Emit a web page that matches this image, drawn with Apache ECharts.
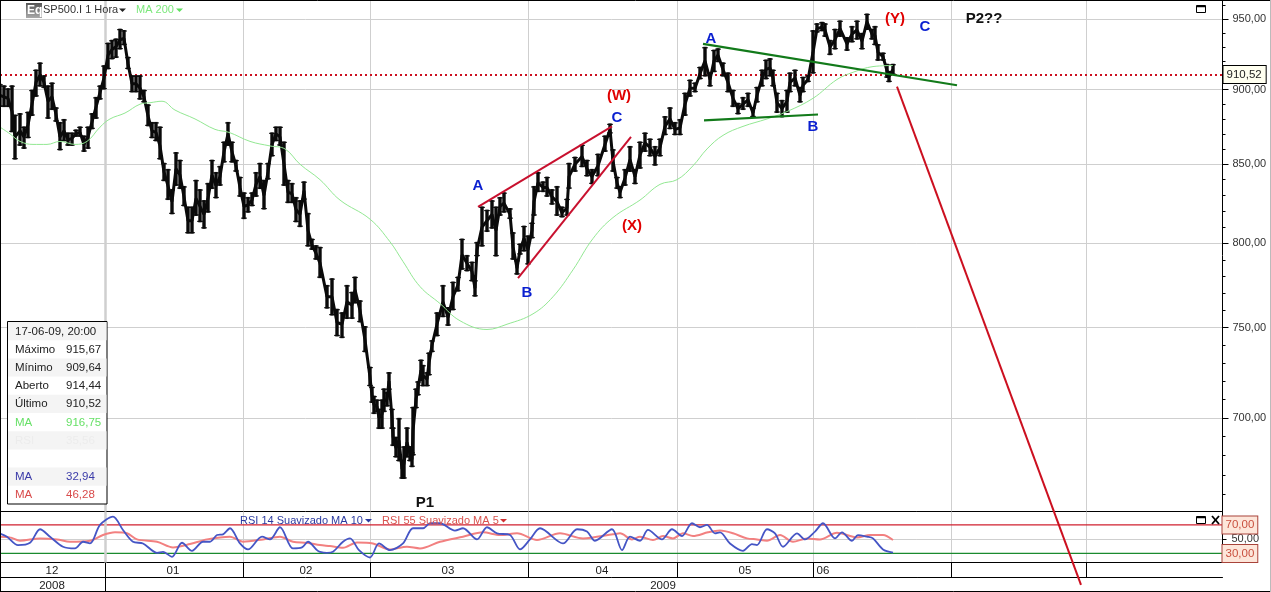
<!DOCTYPE html>
<html><head><meta charset="utf-8">
<style>html,body{margin:0;padding:0;background:#fff;overflow:hidden}#c{width:1271px;height:592px}</style>
<script src="https://cdn.jsdelivr.net/npm/echarts@6/dist/echarts.min.js"></script>
</head><body><div id="c"></div>
<script>
const barIndex=[0,4,8,12,15,20,24,28,32,36,40,44,48,52,56,60,64,68,72,76,80,84,88,92,96,100,104,108,112,116,120,124,128,132,136,140,144,148,152,156,160,164,168,172,176,180,184,188,192,196,200,204,208,212,216,220,224,228,232,236,240,244,248,252,256,260,264,268,272,276,280,284,288,292,296,300,304,308,312,316,320,327,332,337,342,347,352,355,360,365,
370,372,374,377,379,382,384,387,389,392,393,396,399,402,404,407,410,412,413,416,418,421,423,427,429,432,437,443,448,453,458,462,467,472,475,477,482,487,492,496,500,504,510,513,517,520,524,528,532,534,538,543,547,552,557,562,567,569,575,582,587,592,598,605,610,613,617,620,625,630,635,640,645,650,655,660,665,670,675,680,685,690,695,700,705,710,714,718,723,728,733,738,743,748,753,757,762,766,770,773,777,782,787,790,795,800,803,808,813,817,822,825,830,835,840,847,852,857,862,867,872,875,878,883,887,889,893];
const barHigh=[904,903,901,903,883,884,875,885,900,914,919,910,903,905,888,878,880,871,871,873,875,869,875,884,895,903,917,933,935,936,943,942,923,910,910,910,900,890,878,878,875,851,847,834,858,853,836,823,823,840,834,827,838,853,845,849,865,878,865,853,842,832,829,832,845,851,840,851,871,875,875,865,840,838,829,827,839,819,803,799,798,775,779,761,759,775,771,780,766,751,
728,717,712,710,705,710,716,714,725,705,695,690,700,678,685,695,685,682,706,716,720,732,729,725,736,743,759,775,762,777,780,803,793,789,778,801,823,821,827,823,829,832,822,807,790,800,811,805,813,836,845,839,842,834,836,823,828,851,855,863,853,847,857,869,877,860,842,836,847,862,847,865,871,867,862,867,882,888,878,880,898,907,905,916,930,912,928,929,919,912,900,891,895,898,888,902,914,921,922,914,898,893,900,912,914,902,909,910,942,947,948,947,935,943,949,937,945,949,940,954,943,945,932,926,918,913,918];
const barLow=[888,888,888,871,853,862,860,867,882,895,902,901,880,886,878,859,865,862,862,868,868,858,860,873,880,893,900,914,921,922,928,931,914,898,898,893,891,875,867,865,853,839,827,818,836,834,823,806,806,817,813,809,819,834,828,836,851,862,851,845,829,815,819,823,829,834,821,840,855,865,862,836,825,825,813,810,827,798,796,790,779,761,757,745,744,755,755,764,753,736,
717,708,702,703,694,694,703,706,715,694,685,679,677,668,668,679,677,674,680,705,712,720,717,717,723,736,745,756,751,760,771,784,783,777,768,792,798,807,809,792,817,819,815,790,781,793,795,787,803,817,832,832,829,824,817,816,817,834,845,848,842,837,842,858,870,845,834,828,836,845,837,847,858,855,849,855,869,873,869,869,882,895,898,907,909,902,912,919,909,898,888,883,886,888,881,891,902,907,909,902,884,881,884,898,902,891,898,905,911,940,941,937,924,928,937,927,933,935,928,942,935,931,920,920,908,905,910];
const barClose=[896,895,894,885,868,872,868,876,890,905,910,905,892,895,883,868,872,866,867,870,871,863,868,878,888,898,908,924,928,930,935,936,918,904,904,901,895,882,872,871,862,845,836,826,847,843,829,814,814,828,823,818,828,843,836,842,858,870,858,849,835,823,824,827,837,842,830,845,863,870,868,850,832,831,821,818,833,808,799,794,788,768,768,753,752,765,763,772,760,743,
722,712,707,706,700,702,709,710,720,700,690,684,688,673,676,687,681,678,693,710,716,726,723,721,730,740,752,765,756,768,775,793,788,783,773,796,810,814,818,808,823,825,818,798,785,796,803,796,808,826,838,835,835,829,826,819,822,842,850,855,847,842,849,863,873,852,838,832,841,853,842,856,864,861,855,861,875,880,873,874,890,901,901,911,920,907,920,924,914,905,894,887,890,893,884,896,908,914,915,908,891,887,892,905,908,896,903,907,926,943,944,942,930,935,943,932,939,942,934,948,939,938,926,923,913,909,914];
const maIndex=[0,10,20,33,47,60,75,87,100,110,125,140,150,162,175,195,215,229,250,270,285,300,320,340,370,390,403,420,440,460,487,507,533,553,573,593,613,640,660,677,693,707,723,743,767,787,813,837,853,873,893];
const maValues=[874.5,870,865,863,863,865,863,865,874.5,880,884,890,891,892,886,880,873,871,865,862,860,850,840,827,815,801,789,774,764,754,749,752,758,768,784,803,816,827,837,840,849,860,869,875,880,885,894,907,912,916,916.75];
const rsi14Index=[0,7,18,30,40,50,63,75,83,90,100,113,123,133,143,157,163,172,182,192,203,210,217,223,230,240,248,262,270,280,293,302,308,317,320,327,333,343,350,359,370,379,390,403,413,423,430,440,455,463,477,487,497,510,520,530,540,563,577,587,595,612,622,630,640,648,662,672,682,692,700,707,715,720,730,743,752,757,767,775,783,797,805,815,823,835,842,852,858,867,873,883,893];
const rsi14=[58,53.5,41.7,45,63.9,53.5,39.4,37,46.4,44,70,81.7,62.9,46.4,44,30.9,32.3,25.2,45,33.7,46.4,46.4,55.8,56.8,65.3,44,35.6,53.5,49.7,66.7,37,38.4,46.4,34.6,32.3,30.9,32.3,46.4,51.1,34.6,24.3,44,34.6,44,65.3,65.3,72.3,72.3,62,65.3,49.7,66.7,58.2,55.8,35.6,49.7,65.3,44,63.9,60.6,47.8,63.9,34.6,53.5,47.8,62.9,49.7,63.9,54.4,72.3,66.7,70,58.2,59.6,44,33.7,43.1,41.7,63.9,58.2,39.4,58.2,49.7,60.6,72.3,51.1,59.6,47.8,55.8,53.5,51.1,35.6,31.3];
const rsi55Index=[0,10,20,40,57,70,90,103,115,127,137,157,173,190,207,230,243,263,280,293,307,320,330,343,357,373,390,407,420,440,463,483,500,517,537,560,583,613,620,632,640,653,663,673,683,693,708,720,733,747,757,767,780,793,807,820,837,857,870,883,893];
const rsi55=[53.5,52.5,47.8,51.1,49.7,46.4,47.8,55.8,59.6,58.2,49.7,46.4,38.4,43.1,49.7,53.5,46.4,49.7,53.5,46.4,45,41.7,40.3,38,45.5,44,35.6,39.4,37,46.4,53.5,59.6,55.8,58.2,48.8,58.2,51.1,56.8,58.2,49.7,53.5,48.8,54.4,51.1,58.2,54.4,59.6,62,58.2,51.1,49.7,47.8,55.8,46.4,51.1,49.7,59.1,52.5,55.8,55.8,48.8,45];
const lastPrice=910.52;
const priceTicks=[700,750,800,850,900,950];
const priceMinorTicks=[660,670,680,690,710,720,730,740,760,770,780,790,810,820,830,840,860,870,880,890,910,920,930,940,960];
const monthEdges=[105,243,370,528,677,813,951,1086];
const monthLabelAt=[52,173,306,448,602,745,823];
const monthLabels=['12','01','02','03','04','05','06'];
const yearEdges=[105];
const yearLabelAt=[52,663];
const yearLabels=['2008','2009'];
const redUpper=[[478,822.7],[612,875]];
const redLower=[[518,779],[631,868]];
const greenUpper=[[703,932],[957,903]];
const greenLower=[[704,879],[818,883]];
const redProjection=[[897,902],[1081,616]];
const noteIndex=[619,478,617,632,527,425,711,813,895,925,984];
const notePrice=[896,836,881,811,770,656,936,875,950,944,950];
const noteText=['(W)','A','C','(X)','B','P1','A','B','(Y)','C','P2??'];
const noteColor=['#e00000','#0a1fd0','#0a1fd0','#e00000','#0a1fd0','#111','#0a1fd0','#0a1fd0','#e00000','#0a1fd0','#111'];
const infoDate='17-06-09, 20:00';
const infoNames=['Máximo','Mínimo','Aberto','Último','MA','RSI','','MA','MA'];
const infoValues=['915,67','909,64','914,44','910,52','916,75','35,56','','32,94','46,28'];
const infoColors=['#222','#222','#222','#222','#66e066','#ececec','#222','#3a3aa8','#d84a4a'];

const F='"Liberation Sans",Arial,sans-serif';
const fmt=v=>v.toFixed(2).replace('.',',');
const zip=(a,b)=>a.map((x,i)=>[x,b[i]]);
const lineS=(name,d,color,w,extra)=>Object.assign({name,type:'line',data:d,symbol:'none',silent:true,clip:false,z:8,
  lineStyle:{color,width:w}},extra||{});
const levelLabel=t=>({show:true,position:'end',formatter:t,distance:0,color:'#c9503f',fontSize:11.5,fontFamily:F,backgroundColor:'#fde6da',borderColor:'#a8433a',borderWidth:1,padding:[3,3,2,3]});
const levelS=(name,v,color)=>({name,type:'line',xAxisIndex:1,yAxisIndex:2,data:[[0,v],[1222.5,v]],symbol:'none',silent:true,z:3,
  itemStyle:{color},lineStyle:{color,width:1.2},
  markLine:{silent:true,symbol:'none',animation:false,lineStyle:{color:'rgba(255,255,255,0)',width:1,type:'solid'},label:levelLabel(fmt(v)),data:[{yAxis:v}]}});

const graphics=[];
const T=(x,y,text,fill,font,extra)=>graphics.push(Object.assign({type:'text',x,y,silent:true,z:50,style:{text,fill,font:font||('11.5px '+F),textVerticalAlign:'middle'}},extra||{}));
const tri=(x,y,c)=>graphics.push({type:'polygon',silent:true,z:50,shape:{points:[[x,y],[x+7,y],[x+3.5,y+3.5]]},style:{fill:c}});
const L=(x1,y1,x2,y2,c,w)=>graphics.push({type:'line',silent:true,z:40,shape:{x1,y1,x2,y2},style:{stroke:c,lineWidth:w||1}});
const R=(x,y,w,h,fill,stroke,lw)=>graphics.push({type:'rect',silent:true,z:45,shape:{x,y,width:w,height:h},style:{fill:fill||'transparent',stroke:stroke||null,lineWidth:lw||1}});
// frame
L(0,0.5,1271,0.5,'#000');L(0.5,0,0.5,592,'#000');L(0,591.5,1271,591.5,'#000');L(1270.5,0,1270.5,592,'#bbb');
// header
graphics.push({type:'rect',silent:true,z:45,shape:{x:26,y:3,width:16,height:15},style:{fill:{type:'linear',x:0,y:0,x2:0,y2:1,colorStops:[{offset:0,color:'#555'},{offset:1,color:'#aaa'}]}}});
T(27,11,'Eq','#fff','bold 12px '+F);
T(43,10,'SP500.I 1 Hora','#333','11px '+F);tri(119,8.5,'#222');
T(136,10,'MA 200','#7be87b','11px '+F);tri(176,8.5,'#5ee05e');
// window icons
R(1196.5,5.5,9,7,null,'#000',1);L(1196.5,6.5,1205.5,6.5,'#000',1.5);
R(1196.5,516.5,9,7,null,'#000',1);L(1196.5,517.5,1205.5,517.5,'#000',1.5);
L(1212,516,1219,524,'#000',1.8);L(1219,516,1212,524,'#000',1.8);
// RSI titles
T(240,520.5,'RSI 14 Suavizado MA 10','#2b3aa0','11px '+F);tri(365,519,'#2b3aa0');
T(382,520.5,'RSI 55 Suavizado MA 5','#d9534f','11px '+F);tri(500,519,'#d03030');
// info box
const rowH=18.2, boxTop=322;
graphics.push({type:'rect',silent:true,z:44,shape:{x:7.5,y:321.5,width:99.5,height:182.5},style:{fill:'#fff',stroke:'#000',lineWidth:1}});
for(let i=0;i<10;i++){ if(i%2===0) graphics.push({type:'rect',silent:true,z:44.5,shape:{x:8,y:boxTop+i*rowH,width:98.5,height:rowH},style:{fill:'#f4f4f4'}}); }
T(15,boxTop+9.5,infoDate,'#222');
infoNames.forEach((n,i)=>{const y=boxTop+(i+1)*rowH+9.5;T(15,y,n,infoColors[i]);T(66,y,infoValues[i],infoColors[i]);});

const option={
 animation:false,backgroundColor:'#fff',textStyle:{fontFamily:F},
 grid:[
  {left:0,top:0,width:1222.5,height:511,containLabel:false},
  {left:0,top:511.5,width:1222.5,height:51,containLabel:false,show:true,borderColor:'#000',borderWidth:1,backgroundColor:'transparent'}
 ],
 xAxis:[
  {type:'value',gridIndex:0,min:0,max:1222.5,axisLine:{show:false},axisLabel:{show:false},axisTick:{show:false,customValues:monthEdges},
   splitLine:{show:true,lineStyle:{color:'#cfcfcf',width:1}}},
  {type:'value',gridIndex:1,min:0,max:1222.5,position:'bottom',axisLine:{show:true,onZero:false,lineStyle:{color:'#000'}},
   axisTick:{show:true,length:15,inside:false,customValues:monthEdges,lineStyle:{color:'#000'}},
   axisLabel:{show:true,customValues:monthLabelAt,margin:2,color:'#222',fontSize:11.5,fontFamily:F,formatter:v=>monthLabels[monthLabelAt.indexOf(v)]},
   splitLine:{show:true,lineStyle:{color:'#cfcfcf',width:1}}},
  {type:'value',gridIndex:1,min:0,max:1222.5,position:'bottom',offset:15,axisLine:{show:true,onZero:false,lineStyle:{color:'#000'}},
   axisTick:{show:true,length:15,inside:false,customValues:yearEdges,lineStyle:{color:'#000'}},
   axisLabel:{show:true,customValues:yearLabelAt,margin:2,color:'#222',fontSize:11.5,fontFamily:F,formatter:v=>yearLabels[yearLabelAt.indexOf(v)]},
   splitLine:{show:false}}
 ],
 yAxis:[
  {type:'log',gridIndex:0,position:'right',min:651.8,max:963.9,axisLine:{show:true,onZero:false,lineStyle:{color:'#000'}},
   axisTick:{show:true,length:6,customValues:priceTicks,lineStyle:{color:'#000'}},
   axisLabel:{show:true,customValues:priceTicks,margin:10,color:'#333',fontSize:11,fontFamily:F,formatter:v=>fmt(v)},
   splitLine:{show:true,lineStyle:{color:'#cfcfcf',width:1}},minorTick:{show:false}},
  {type:'log',gridIndex:0,position:'right',min:651.8,max:963.9,axisLine:{show:false,onZero:false},
   axisTick:{show:true,length:3,customValues:priceMinorTicks,lineStyle:{color:'#000'}},axisLabel:{show:false},splitLine:{show:false}},
  {type:'value',gridIndex:1,position:'right',min:17.3,max:88.8,axisLine:{show:true,onZero:false,lineStyle:{color:'#000'}},
   axisTick:{show:true,length:4,customValues:[50],lineStyle:{color:'#000'}},
   axisLabel:{show:true,customValues:[50],margin:9,color:'#333',fontSize:11,fontFamily:F,formatter:v=>fmt(v)},
   splitLine:{show:true,lineStyle:{color:'#cfcfcf',width:1}}}
 ],
 series:[
  {name:'Hoje',type:'line',xAxisIndex:0,yAxisIndex:0,data:[],symbol:'none',silent:true,z:2,
   markLine:{silent:true,symbol:'none',animation:false,label:{show:false},lineStyle:{color:'#cfcfcf',width:2.5,type:'solid'},data:[{xAxis:105}]}},
  {name:'HoursRsi',type:'line',xAxisIndex:1,yAxisIndex:2,data:[],symbol:'none',silent:true,z:2,
   markLine:{silent:true,symbol:'none',animation:false,label:{show:false},lineStyle:{color:'#cfcfcf',width:2.5,type:'solid'},data:[{xAxis:105}]}},
  levelS('RSI 70',70,'#d0202f'),
  levelS('RSI 30',30,'#1a8a2e'),
  lineS('MA 200',zip(maIndex,maValues),'#93e893',1,{xAxisIndex:0,yAxisIndex:0,z:7,smooth:0.4}),
  lineS('Close',zip(barIndex,barClose),'#0a0a0a',3,{xAxisIndex:0,yAxisIndex:0,z:6}),
  {name:'SP500.I',type:'custom',xAxisIndex:0,yAxisIndex:0,z:6,silent:true,clip:false,
   data:barIndex.map((x,i)=>[x,barHigh[i],barLow[i]]),encode:{x:0,y:[1,2]},
   renderItem:(p,api)=>{const a=api.coord([api.value(0),api.value(1)]),b=api.coord([api.value(0),api.value(2)]);
    const mk=(x1,y1,x2,y2,w)=>({type:'line',shape:{x1,y1,x2,y2},style:{stroke:'#0a0a0a',lineWidth:w}});
    return {type:'group',children:[mk(a[0],a[1],b[0],b[1],3.4),mk(a[0]-2.8,a[1]+1,a[0]+2.8,a[1]+1,1.2),mk(b[0]-2.8,b[1]-1,b[0]+2.8,b[1]-1,1.2)]};}},
  lineS('Último',[],'#c00',1,{xAxisIndex:0,yAxisIndex:0,z:9,
   markLine:{silent:true,symbol:'none',animation:false,lineStyle:{color:'#cc1020',width:2,type:[2,3]},
    label:{show:true,position:'end',distance:1,formatter:fmt(lastPrice),color:'#222',fontSize:11.5,fontFamily:F,backgroundColor:'#fffff0',borderColor:'#000',borderWidth:1,padding:[3,4,2,3]},
    data:[{yAxis:lastPrice}]}}),
  lineS('Red upper',redUpper,'#c8102e',2,{xAxisIndex:0,yAxisIndex:0,z:10}),
  lineS('Red lower',redLower,'#c8102e',2,{xAxisIndex:0,yAxisIndex:0,z:10}),
  lineS('Green upper',greenUpper,'#127a1a',2.2,{xAxisIndex:0,yAxisIndex:0,z:10}),
  lineS('Green lower',greenLower,'#127a1a',2.2,{xAxisIndex:0,yAxisIndex:0,z:10}),
  lineS('Projection',redProjection,'#cc1020',2,{xAxisIndex:0,yAxisIndex:0,z:30}),
  lineS('RSI 55',zip(rsi55Index,rsi55),'#f28080',2,{xAxisIndex:1,yAxisIndex:2,z:8,smooth:0.3}),
  lineS('RSI 14',zip(rsi14Index,rsi14),'#4555c5',1.8,{xAxisIndex:1,yAxisIndex:2,z:9,smooth:0.3}),
  {name:'Notas',type:'scatter',xAxisIndex:0,yAxisIndex:0,symbolSize:1,silent:true,z:20,itemStyle:{color:'rgba(255,255,255,0)',opacity:1},
   data:noteIndex.map((x,i)=>({value:[x,notePrice[i]],label:{show:true,position:'inside',opacity:1,formatter:noteText[i],color:noteColor[i],fontSize:15,fontWeight:'bold',fontFamily:F}}))}
 ],
 graphic:{elements:graphics}
};
const chart=echarts.init(document.getElementById('c'),null,{renderer:'canvas',width:1271,height:592});
chart.setOption(option);
</script></body></html>
